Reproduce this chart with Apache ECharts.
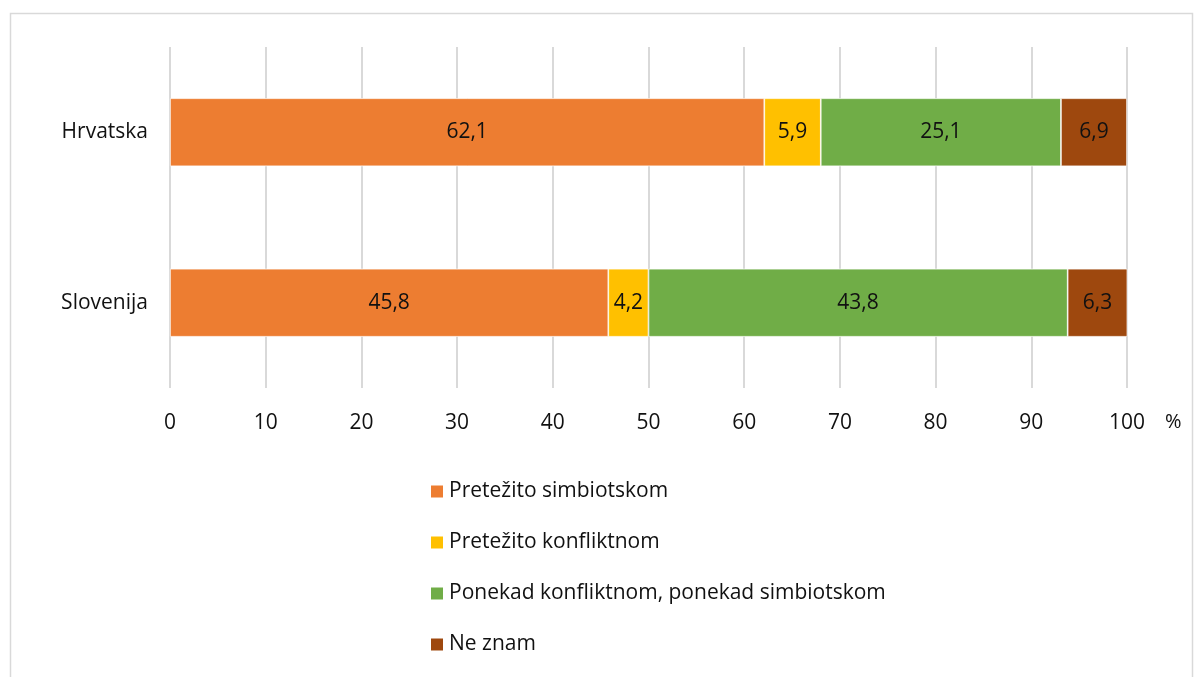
<!DOCTYPE html>
<html><head><meta charset="utf-8">
<script src="https://cdn.jsdelivr.net/npm/echarts@6/dist/echarts.min.js"></script>
<style>html,body{margin:0;padding:0;background:#fff}#c{width:1203px;height:677px}</style>
</head><body><div id="c"></div>
<script>
const categories = ['Hrvatska', 'Slovenija'];
const seriesNames = ['Pretežito simbiotskom', 'Pretežito konfliktnom', 'Ponekad konfliktnom, ponekad simbiotskom', 'Ne znam'];
const simbiotskom = [62.1, 45.8];
const konfliktnom = [5.9, 4.2];
const ponekad = [25.1, 43.8];
const neZnam = [6.9, 6.3];
const xTicks = [0, 10, 20, 30, 40, 50, 60, 70, 80, 90, 100];
const colors = ['#ED7D31', '#FFC000', '#70AD47', '#9E480E'];
const values = [simbiotskom, konfliktnom, ponekad, neZnam];
const font = '"Open Sans", sans-serif';

const chart = echarts.init(document.getElementById('c'), null, {renderer: 'canvas'});
chart.setOption({
  animation: false,
  color: colors,
  graphic: [{type: 'rect', shape: {x: 10.5, y: 13.5, width: 1182, height: 680}, style: {fill: 'none', stroke: '#d9d9d9', lineWidth: 1.5}, silent: true}],
  grid: {left: 170, right: 76, top: 47, height: 341},
  legend: {
    orient: 'vertical', left: 424, top: 476, itemWidth: 14, itemHeight: 14, itemGap: 30,
    icon: 'rect',
    textStyle: {fontFamily: font, fontSize: 21, color: '#111'},
    data: seriesNames
  },
  xAxis: {
    type: 'value', min: xTicks[0], max: xTicks[xTicks.length - 1], interval: 10,
    name: '%', nameLocation: 'end', nameGap: 38,
    nameTextStyle: {fontFamily: font, fontSize: 20, color: '#111', verticalAlign: 'top', padding: [24, 0, 0, 0]},
    axisLine: {show: false}, axisTick: {show: false},
    axisLabel: {fontFamily: font, fontSize: 21, color: '#111', margin: 25},
    splitLine: {show: true, lineStyle: {color: '#d9d9d9', width: 2}}
  },
  yAxis: {
    type: 'category', data: categories, inverse: true,
    axisLine: {show: false}, axisTick: {show: false},
    axisLabel: {fontFamily: font, fontSize: 21, color: '#111', margin: 22}
  },
  series: seriesNames.map((n, i) => ({
    name: n, type: 'bar', stack: 'total', barWidth: 68,
    data: values[i],
    itemStyle: {color: colors[i], borderColor: '#fff', borderWidth: 0.7},
    label: {show: true, position: 'inside', fontFamily: font, fontSize: 21, color: '#111',
      formatter: p => String(p.value).replace('.', ',')}
  }))
});
</script></body></html>
